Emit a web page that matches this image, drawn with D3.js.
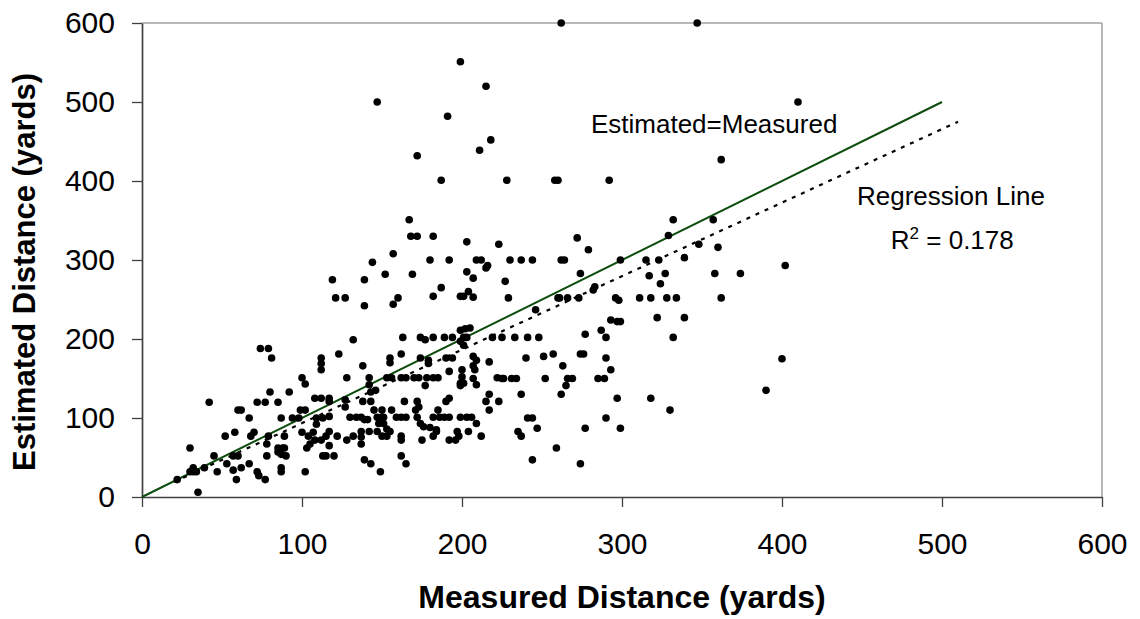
<!DOCTYPE html>
<html>
<head>
<meta charset="utf-8">
<script src="https://cdn.jsdelivr.net/npm/d3@7"></script>
<style>
  html, body { margin: 0; padding: 0; background: #fff; }
  svg { display: block; font-family: "Liberation Sans", Arial, Helvetica, sans-serif; }
</style>
</head>
<body>
<svg id="chart" width="1140" height="619"></svg>
<script>
// Measured distance (x) and estimated distance (y), yards
const measured = [
  74,79,81,112,112,112,100,102,42,72,77,85,80,92,108,112,117,60,62,99,102,67,87,94,98,109,113,117,109,30,
  52,58,68,70,79,89,78,100,104,107,108,105,112,115,103,117,85,88,89,85,90,87,78,113,115,45,57,60,53,67,
  32,30,34,32,39,57,62,47,72,73,77,59,87,87,102,22,35,
  147,191,172,187,167,168,172,182,157,144,180,192,119,139,152,169,121,127,139,157,160,182,187,
  163,174,177,182,189,194,201,203,199,201,219,132,123,138,155,155,162,174,179,179,190,194,200,200,199,201,
  207,207,208,209,217,192,128,142,142,153,156,162,165,170,173,178,182,185,177,199,222,217,215,217,223,127,
  127,143,146,117,138,143,145,150,151,151,164,172,173,172,174,176,180,184,182,184,185,190,192,182,186,189,
  192,199,203,206,209,204,197,192,212,159,162,165,130,134,137,139,141,147,150,148,153,155,153,150,147,142,
  137,137,137,128,132,122,117,120,139,143,149,162,165,162,162,175,171,198,196,156,
  225,233,241,248,277,287,290,207,209,225,226,231,234,237,240,251,257,252,263,266,269,265,262,274,276,290,
  293,285,289,297,318,290,277,299,241,244,247,235,237,259,244,274,
  262,347,199,215,218,211,410,362,228,258,260,292,203,223,272,279,209,212,230,237,244,262,264,299,203,207,
  216,215,227,199,201,204,207,229,260,261,266,273,274,283,282,296,298,246,311,318,328,334,362,317,324,315,
  323,327,329,332,339,348,357,360,358,374,402,322,339,293,297,299,332,199,202,205,
  330,390,400
];
const estimated = [
  188,188,176,176,169,161,151,143,120,120,120,120,133,133,125,125,125,110,110,110,110,100,100,100,100,100,100,102,92,62,
  77,82,77,82,77,77,67,82,77,82,72,67,72,77,62,65,62,62,62,57,52,54,52,52,52,52,52,52,42,42,
  37,32,32,32,37,34,37,32,32,27,22,22,37,32,32,22,6,
  500,482,432,401,351,330,330,330,308,297,300,300,275,275,282,282,252,252,242,244,252,254,265,
  202,202,199,202,202,202,202,202,197,192,202,199,181,166,176,170,181,176,173,169,176,176,161,152,144,144,
  178,166,161,173,171,159,151,151,142,151,151,151,151,151,151,151,151,151,141,141,151,130,121,110,121,123,
  114,133,135,121,121,121,110,110,101,93,121,121,114,101,93,89,88,85,77,83,110,121,125,101,101,101,
  101,101,101,101,93,83,83,72,77,101,101,101,101,101,101,98,98,101,101,93,86,83,77,77,83,83,
  83,76,67,72,77,77,83,52,47,42,32,52,42,77,72,72,110,77,72,110,
  202,202,202,202,206,211,202,150,142,150,150,150,150,130,176,178,181,150,166,150,150,141,130,181,181,176,
  161,150,150,125,125,100,87,87,100,100,87,83,77,62,47,42,
  600,600,551,520,452,439,500,427,401,401,401,401,323,320,328,313,300,300,300,300,300,300,300,300,285,277,
  293,290,273,254,254,260,253,252,252,252,252,252,283,266,262,252,249,237,252,252,252,252,252,280,270,300,
  300,283,331,351,303,320,351,316,283,283,293,227,227,224,222,222,202,211,213,214,
  110,135,175
];
// Reference lines
const identityX = [0, 500];
const identityY = [0, 500];
const regressionX = [20, 510];
const regressionY = [19, 475];
// Axis ticks
const xTicks = [0, 100, 200, 300, 400, 500, 600];
const yTicks = [0, 100, 200, 300, 400, 500, 600];
// Labels
const xTitle = "Measured Distance (yards)";
const yTitle = "Estimated Distance (yards)";
const identityLabel = "Estimated=Measured";
const regressionLabel = "Regression Line";
const r2Value = "0.178";

const svg = d3.select("#chart");
const x = d3.scaleLinear().domain([0, 600]).range([142, 1102]);
const y = d3.scaleLinear().domain([0, 600]).range([497, 23]);

// Plot frame: top and right borders
svg.append("line").attr("x1", x(0)).attr("x2", x(600)).attr("y1", y(600)).attr("y2", y(600))
  .attr("stroke", "#a0a0a0").attr("stroke-width", 1.5);
svg.append("line").attr("x1", x(600)).attr("x2", x(600)).attr("y1", y(600)).attr("y2", y(0))
  .attr("stroke", "#a0a0a0").attr("stroke-width", 1.5);

// Axes
const xAxis = svg.append("g").attr("transform", `translate(0,${y(0)})`)
  .call(d3.axisBottom(x).tickValues(xTicks).tickSize(10).tickSizeOuter(0).tickPadding(26).tickFormat(d3.format("d")));
const yAxis = svg.append("g").attr("transform", `translate(${x(0)},0)`)
  .call(d3.axisLeft(y).tickValues(yTicks).tickSize(10).tickSizeOuter(0).tickPadding(17).tickFormat(d3.format("d")));
[xAxis, yAxis].forEach(g => {
  g.select(".domain").attr("stroke", "#404040").attr("stroke-width", 1.7);
  g.selectAll(".tick line").attr("stroke", "#404040").attr("stroke-width", 1.3);
  g.selectAll(".tick text").attr("fill", "#000").style("font-size", "30px")
    .style("font-family", '"Liberation Sans", Arial, sans-serif');
});

// Identity line
const line = d3.line().x(d => x(d[0])).y(d => y(d[1]));
svg.append("path").datum(d3.zip(identityX, identityY)).attr("d", line)
  .attr("fill", "none").attr("stroke", "#0d4d0d").attr("stroke-width", 2);
// Regression line (dotted)
svg.append("path").datum(d3.zip(regressionX, regressionY)).attr("d", line)
  .attr("fill", "none").attr("stroke", "#000").attr("stroke-width", 2.2).attr("stroke-dasharray", "4,6");

// Points
svg.append("g").selectAll("circle").data(d3.zip(measured, estimated)).join("circle")
  .attr("cx", d => x(d[0])).attr("cy", d => y(d[1])).attr("r", 3.8).attr("fill", "#000");

// Annotations
svg.append("text").attr("x", x(280.6)).attr("y", y(460.8)).style("font-size", "26px").text(identityLabel);
svg.append("text").attr("x", x(505.6)).attr("y", y(369.6)).attr("text-anchor", "middle")
  .style("font-size", "26px").text(regressionLabel);
const r2 = svg.append("text").attr("x", x(468)).attr("y", y(313.9)).style("font-size", "26px");
r2.append("tspan").text("R");
r2.append("tspan").attr("dy", "-10").style("font-size", "17px").text("2");
r2.append("tspan").attr("dy", "10").text(" = " + r2Value);

// Axis titles
svg.append("text").attr("x", (x(0) + x(600)) / 2).attr("y", 608).attr("text-anchor", "middle")
  .style("font-size", "32px").style("font-weight", "bold").text(xTitle);
svg.append("text").attr("transform", `translate(35,${(y(0) + y(600)) / 2 + 12}) rotate(-90)`)
  .attr("text-anchor", "middle").style("font-size", "31px").style("font-weight", "bold").text(yTitle);
</script>
</body>
</html>
